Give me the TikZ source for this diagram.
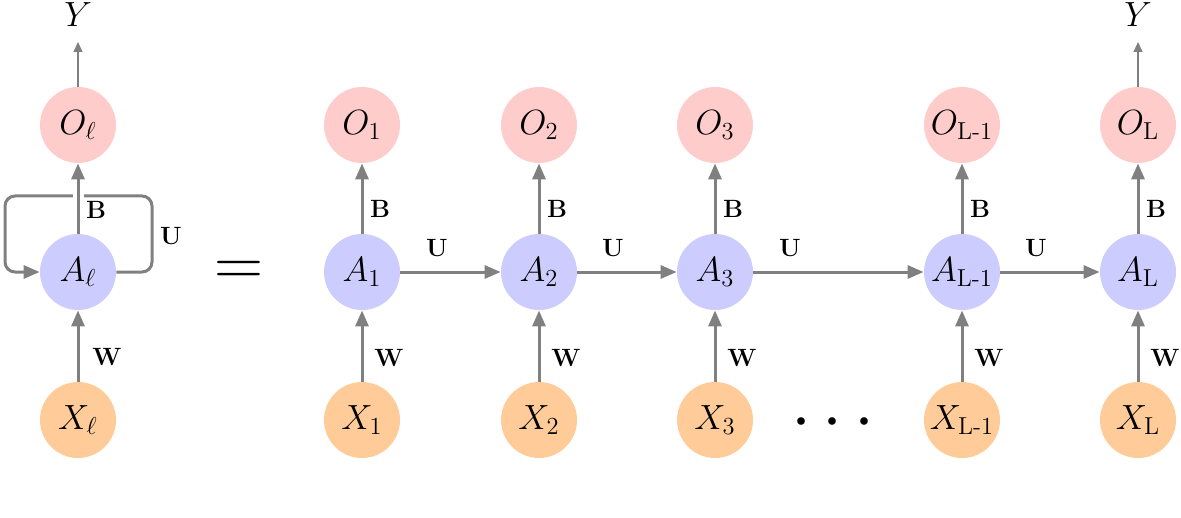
\RequirePackage{fix-cm}
\documentclass[tikz,border=0pt]{standalone}
\usepackage{amsmath}
\usetikzlibrary{arrows.meta}
\begin{document}
\begin{tikzpicture}[x=0.5pt,y=-0.5pt,
  cell/.style={circle, minimum size=38pt, inner sep=0pt, font=\fontsize{17.5}{21}\selectfont},
  onode/.style={cell, fill=red!20},
  anode/.style={cell, fill=blue!20},
  xnode/.style={cell, fill=orange!40},
  arr/.style={draw=gray, line width=1.5pt, -{Triangle[length=8pt,width=6.5pt]}},
  thinarr/.style={draw=gray, line width=0.65pt, -{Triangle[length=5pt,width=4.5pt]}},
  loopline/.style={draw=gray, line width=1.5pt, rounded corners=5pt, -{Triangle[length=8pt,width=6.5pt]}},
  lab/.style={font=\fontsize{12.5}{15}\selectfont, inner sep=0pt},
  outlab/.style={font=\fontsize{17.5}{21}\selectfont, inner sep=0pt},
]
\useasboundingbox (0,0) rectangle (1181,518);

% left folded network
\node[onode] (Ol) at (78,125) {$O_\ell$};
\node[anode] (Al) at (78,272) {$A_\ell$};
\node[xnode] (Xl) at (78,420) {$X_\ell$};
\node[outlab] (Yl) at (78,15) {$Y$};
\coordinate (Ylt) at (78,42);

\draw[loopline] (Al.east) -- (152,272) -- (152,196) -- (5,196) -- (5,272) -- (Al.west);
\draw[arr, preaction={draw=white, line width=5.5pt, -}] (Al) -- (Ol);
\draw[arr] (Xl) -- (Al);
\draw[thinarr] (Ol) -- (Ylt);
\node[lab] (Bl) at (96,210) {$\mathbf{B}$};
\node[lab] (Ul) at (171,236) {$\mathbf{U}$};
\node[lab] (Wl) at (107,357) {$\mathbf{W}$};

\node[anchor=base, inner sep=0pt, font=\fontsize{34}{38}\selectfont] (eq) at (239,285) {$=$};

% unrolled network
\foreach \n/\x/\s in {1/362/1, 2/539/2, 3/715/3, 4/962/\text{L-1}, 5/1138/\mathrm{L}} {
  \node[onode] (O\n) at (\x,125) {$O_{\s}$};
  \node[anode] (A\n) at (\x,272) {$A_{\s}$};
  \node[xnode] (X\n) at (\x,420) {$X_{\s}$};
  \draw[arr] (A\n) -- (O\n);
  \draw[arr] (X\n) -- (A\n);
  \node[lab] (B\n) at (\x+18,209) {$\mathbf{B}$};
  \node[lab] (W\n) at (\x+27,358) {$\mathbf{W}$};
}
\node[outlab] (YL) at (1138,15) {$Y$};
\coordinate (YLt) at (1138,42);
\draw[thinarr] (O5) -- (YLt);

\draw[arr] (A1) -- (A2);
\draw[arr] (A2) -- (A3);
\draw[arr] (A3) -- (A4);
\draw[arr] (A4) -- (A5);
\node[lab] (U1) at (437,248) {$\mathbf{U}$};
\node[lab] (U2) at (613,248) {$\mathbf{U}$};
\node[lab] (U3) at (790,248) {$\mathbf{U}$};
\node[lab] (U4) at (1036,248) {$\mathbf{U}$};

\node[anchor=base, inner sep=0pt, font=\fontsize{36}{40}\selectfont] (dots) at (839,439) {$\cdots$};
\end{tikzpicture}
\end{document}
